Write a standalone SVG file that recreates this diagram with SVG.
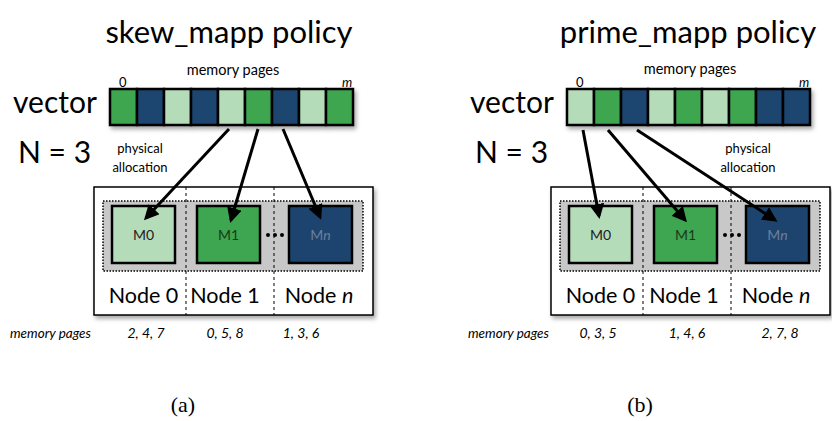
<svg xmlns="http://www.w3.org/2000/svg" width="832" height="421" viewBox="0 0 832 421">
<style>
text{font-family:Lato,"Open Sans","Liberation Sans",sans-serif;fill:#000}
.title{font-size:31px;text-anchor:middle}
.big{font-size:30px}
.node{font-size:21.5px;text-anchor:middle}
.sm{font-size:13px;text-anchor:middle}
.mp{font-size:14.5px;text-anchor:middle}
.mlab{font-size:14px;text-anchor:middle}
.it{font-style:italic}
.pg{font-size:14px;font-style:italic;text-anchor:middle}
.cap{font-family:"Liberation Serif",serif;font-size:22px;text-anchor:middle}
.cell{stroke:#000;stroke-width:2.5}
.L{fill:#b5dcb8}.G{fill:#3ea650}.N{fill:#1d446f}
.outer{fill:#fff;stroke:#000;stroke-width:1.5}
.div{stroke:#000;stroke-width:1;stroke-dasharray:3,3}
.inner{fill:#c8c8c8;stroke:#000;stroke-width:1.5;stroke-dasharray:1.5,1.5}
.box{stroke:#000;stroke-width:2.5}
.arr{stroke:#000;stroke-width:3;fill:none;marker-end:url(#ah)}
</style>
<defs>
<marker id="ah" markerWidth="5" markerHeight="5" refX="4" refY="2.5" orient="auto" markerUnits="strokeWidth">
<path d="M0,0 L5,2.5 L0,5 z" fill="#000"/>
</marker>
<filter id="sh" x="-10%" y="-10%" width="125%" height="135%">
<feDropShadow dx="2" dy="3" stdDeviation="2" flood-color="#000" flood-opacity="0.35"/>
</filter>
</defs>
<rect width="832" height="421" fill="#fff"/>

<!-- Panel (a) -->
<g id="panel-a-labels">
<text class="title" x="229" y="43">skew_mapp policy</text>
<text class="mp" x="233" y="75">memory pages</text>
<text x="119" y="87" style="font-size:13px">0</text>
<text x="342" y="87" class="it" style="font-size:13px">m</text>
<text class="big" x="13" y="113">vector</text>
<text class="big" x="18" y="163">N = 3</text>
<text class="sm" x="140" y="153">physical</text>
<text class="sm" x="140" y="172">allocation</text>
</g>
<g id="vector-a" filter="url(#sh)">
<rect class="cell G" x="110" y="89" width="27" height="36"/>
<rect class="cell N" x="137" y="89" width="27" height="36"/>
<rect class="cell L" x="164" y="89" width="27" height="36"/>
<rect class="cell N" x="191" y="89" width="27" height="36"/>
<rect class="cell L" x="218" y="89" width="27" height="36"/>
<rect class="cell G" x="245" y="89" width="27" height="36"/>
<rect class="cell N" x="272" y="89" width="27" height="36"/>
<rect class="cell L" x="299" y="89" width="27" height="36"/>
<rect class="cell G" x="326" y="89" width="27" height="36"/>
</g>
<g id="system-a">
<rect class="outer" x="94" y="187" width="279" height="128" filter="url(#sh)"/>
<rect class="inner" x="103" y="201" width="260" height="70"/>
<line class="div" x1="186" y1="187" x2="186" y2="315"/>
<line class="div" x1="274" y1="187" x2="274" y2="315"/>
<circle cx="268" cy="235" r="2"/><circle cx="275" cy="235" r="2"/><circle cx="282" cy="235" r="2"/>
</g>
<g id="node0-a">
<rect class="box L" x="112" y="206" width="63" height="57"/>
<text class="mlab" x="143.5" y="240" style="fill:#222">M0</text>
<text class="node" x="143.5" y="303">Node 0</text>
</g>
<g id="node1-a">
<rect class="box G" x="197" y="206" width="63" height="57"/>
<text class="mlab" x="228.5" y="240" style="fill:#1a3a1a">M1</text>
<text class="node" x="225" y="303">Node 1</text>
</g>
<g id="noden-a">
<rect class="box N" x="289" y="206" width="63" height="57"/>
<text class="mlab" x="320.5" y="240" style="fill:#6d7f98">M<tspan class="it">n</tspan></text>
<text class="node" x="319" y="303">Node <tspan class="it">n</tspan></text>
</g>
<g id="pages-a">
<text class="it" x="10" y="338" style="font-size:13.5px">memory pages</text>
<text class="pg" x="146" y="338">2, 4, 7</text>
<text class="pg" x="225" y="338">0, 5, 8</text>
<text class="pg" x="301" y="338">1, 3, 6</text>
<text class="cap" x="183" y="412">(a)</text>
</g>

<!-- Panel (b) -->
<g id="panel-b-labels">
<text class="title" x="688" y="43">prime_mapp policy</text>
<text class="mp" x="690" y="74">memory pages</text>
<text x="576" y="87" style="font-size:13px">0</text>
<text x="799" y="87" class="it" style="font-size:13px">m</text>
<text class="big" x="470" y="113">vector</text>
<text class="big" x="475" y="163">N = 3</text>
<text class="sm" x="748" y="153">physical</text>
<text class="sm" x="748" y="172">allocation</text>
</g>
<g id="vector-b" filter="url(#sh)">
<rect class="cell L" x="567" y="89" width="27" height="36"/>
<rect class="cell G" x="594" y="89" width="27" height="36"/>
<rect class="cell N" x="621" y="89" width="27" height="36"/>
<rect class="cell L" x="648" y="89" width="27" height="36"/>
<rect class="cell G" x="675" y="89" width="27" height="36"/>
<rect class="cell L" x="702" y="89" width="27" height="36"/>
<rect class="cell G" x="729" y="89" width="27" height="36"/>
<rect class="cell N" x="756" y="89" width="27" height="36"/>
<rect class="cell N" x="783" y="89" width="27" height="36"/>
</g>
<g id="system-b">
<rect class="outer" x="551" y="187" width="279" height="128" filter="url(#sh)"/>
<rect class="inner" x="560" y="201" width="260" height="70"/>
<line class="div" x1="643" y1="187" x2="643" y2="315"/>
<line class="div" x1="731" y1="187" x2="731" y2="315"/>
<circle cx="725" cy="235" r="2"/><circle cx="732" cy="235" r="2"/><circle cx="739" cy="235" r="2"/>
</g>
<g id="node0-b">
<rect class="box L" x="569" y="206" width="63" height="57"/>
<text class="mlab" x="600.5" y="240" style="fill:#222">M0</text>
<text class="node" x="600.5" y="303">Node 0</text>
</g>
<g id="node1-b">
<rect class="box G" x="654" y="206" width="63" height="57"/>
<text class="mlab" x="685.5" y="240" style="fill:#1a3a1a">M1</text>
<text class="node" x="684" y="303">Node 1</text>
</g>
<g id="noden-b">
<rect class="box N" x="746" y="206" width="63" height="57"/>
<text class="mlab" x="777.5" y="240" style="fill:#6d7f98">M<tspan class="it">n</tspan></text>
<text class="node" x="776" y="303">Node <tspan class="it">n</tspan></text>
</g>
<g id="pages-b">
<text class="it" x="468" y="338" style="font-size:13.5px">memory pages</text>
<text class="pg" x="598" y="338">0, 3, 5</text>
<text class="pg" x="687" y="338">1, 4, 6</text>
<text class="pg" x="780" y="338">2, 7, 8</text>
<text class="cap" x="640" y="412">(b)</text>
</g>

<g id="connectors">
<line class="arr" x1="229" y1="129" x2="146" y2="218"/>
<line class="arr" x1="258" y1="129" x2="231" y2="220"/>
<line class="arr" x1="283" y1="129" x2="320" y2="217"/>
<line class="arr" x1="583" y1="130" x2="599" y2="216"/>
<line class="arr" x1="608" y1="130" x2="685" y2="220"/>
<line class="arr" x1="637" y1="130" x2="775" y2="220"/>
</g>
</svg>
